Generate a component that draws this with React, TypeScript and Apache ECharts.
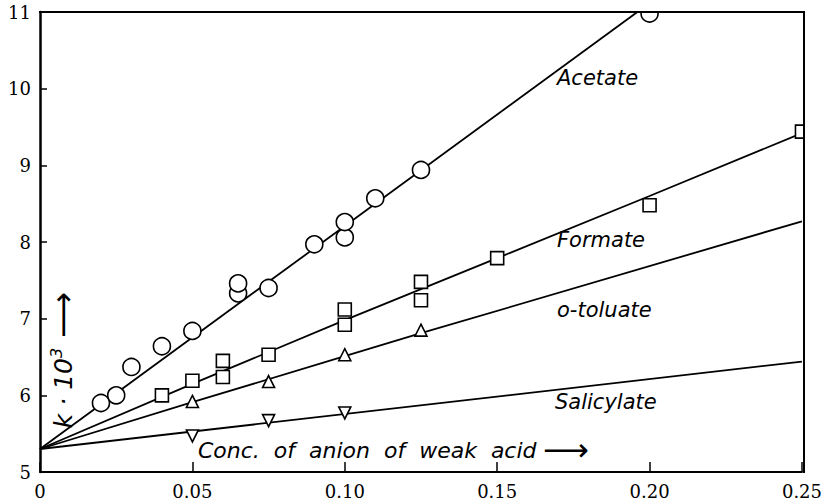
import React, { useEffect, useRef } from "react";
import * as echarts from "echarts";

// ---- data ----
const xTicks = [0, 0.05, 0.1, 0.15, 0.2, 0.25];
const yTicks = [5, 6, 7, 8, 9, 10, 11];

const acetatePts = [
  [0.02, 5.9], [0.025, 6.0], [0.03, 6.37], [0.04, 6.64], [0.05, 6.84],
  [0.065, 7.33], [0.065, 7.46], [0.075, 7.4], [0.09, 7.97], [0.1, 8.06],
  [0.1, 8.26], [0.11, 8.57], [0.125, 8.94], [0.2, 10.98],
];
const formatePts = [
  [0.04, 6.0], [0.05, 6.19], [0.06, 6.45], [0.06, 6.24], [0.075, 6.53],
  [0.1, 7.12], [0.1, 6.92], [0.125, 7.48], [0.125, 7.24], [0.15, 7.79],
  [0.2, 8.48], [0.25, 9.44],
];
const toluatePts = [[0.05, 5.92], [0.075, 6.18], [0.1, 6.53], [0.125, 6.85]];
const salicylatePts = [[0.05, 5.47], [0.075, 5.67], [0.1, 5.77]];

const acetateFit = [[0, 5.3], [0.196, 11.0]];
const formateFit = [[0, 5.3], [0.05, 6.15], [0.1, 6.98], [0.15, 7.79], [0.2, 8.6], [0.25, 9.42]];
const toluateFit = [[0, 5.3], [0.05, 5.91], [0.1, 6.51], [0.125, 6.81], [0.25, 8.27]];
const salicylateFit = [[0, 5.3], [0.25, 6.44]];

const curveNames = ["Acetate", "Formate", "o-toluate", "Salicylate"];
const xTitle = "Conc.\u00A0 of\u00A0 anion\u00A0 of\u00A0 weak\u00A0 acid";

const SANS = '"DejaVu Sans"';
const SERIF = '"DejaVu Serif"';

export default function App() {
  const ref = useRef<HTMLDivElement>(null);

  useEffect(() => {
    const chart = echarts.init(ref.current!, null, { renderer: "svg" });

    const fitLine = (name: string, data: number[][]) => ({
      name,
      type: "line",
      data,
      symbol: "none",
      clip: true,
      silent: true,
      z: 2,
      lineStyle: { color: "#000", width: 1.8 },
    });
    const marks = (name: string, data: number[][], symbol: string, size: number, rotate = 0) => ({
      name: name + " pts",
      type: "scatter",
      data,
      symbol,
      symbolSize: size,
      symbolRotate: rotate,
      clip: true,
      silent: true,
      z: 3,
      itemStyle: { color: "#fff", borderColor: "#000", borderWidth: 1.6, opacity: 1 },
    });

    const labelStyle = { fill: "#000", font: `italic 21px ${SANS}`, textVerticalAlign: "middle" };

    chart.setOption({
      animation: false,
      backgroundColor: "#fff",
      grid: { left: 40, right: 21, top: 12, bottom: 32 },
      xAxis: {
        type: "value",
        min: xTicks[0],
        max: xTicks[xTicks.length - 1],
        interval: 0.05,
        axisLine: { show: true, onZero: false, lineStyle: { color: "#000", width: 2 } },
        axisTick: { show: true, inside: true, length: 10, lineStyle: { color: "#000", width: 1.5 } },
        splitLine: { show: false },
        axisLabel: {
          color: "#000",
          fontFamily: SERIF,
          fontSize: 18,
          margin: 10,
          formatter: (v: number) => (v === 0 ? "0" : v.toFixed(2)),
        },
      },
      yAxis: {
        type: "value",
        min: yTicks[0],
        max: yTicks[yTicks.length - 1],
        interval: 1,
        axisLine: { show: true, onZero: false, lineStyle: { color: "#000", width: 2.5 } },
        axisTick: { show: true, inside: true, length: 7, lineStyle: { color: "#000", width: 1.5 } },
        splitLine: { show: false },
        axisLabel: { color: "#000", fontFamily: SERIF, fontSize: 18, margin: 9 },
      },
      series: [
        fitLine("Acetate", acetateFit),
        fitLine("Formate", formateFit),
        fitLine("o-toluate", toluateFit),
        fitLine("Salicylate", salicylateFit),
        marks("Acetate", acetatePts, "circle", 17),
        marks("Formate", formatePts, "rect", 13),
        marks("o-toluate", toluatePts, "triangle", 12),
        marks("Salicylate", salicylatePts, "triangle", 12, 180),
      ],
      graphic: [
        // mask symbols that stick out of the frame (top and right)
        { type: "rect", z: 100, silent: true, shape: { x: 41, y: 0, width: 784, height: 11 }, style: { fill: "#fff" } },
        { type: "rect", z: 100, silent: true, shape: { x: 805, y: 0, width: 20, height: 472 }, style: { fill: "#fff" } },
        // top and right frame lines
        { type: "line", z: 101, silent: true, shape: { x1: 39, y1: 12, x2: 805, y2: 12 }, style: { stroke: "#000", lineWidth: 2 } },
        { type: "line", z: 101, silent: true, shape: { x1: 804, y1: 11, x2: 804, y2: 473 }, style: { stroke: "#000", lineWidth: 2 } },
        // curve labels
        { type: "text", z: 102, x: 557, y: 78, style: { ...labelStyle, text: curveNames[0] } },
        { type: "text", z: 102, x: 557, y: 240, style: { ...labelStyle, text: curveNames[1] } },
        { type: "text", z: 102, x: 557, y: 310, style: { ...labelStyle, text: curveNames[2] } },
        { type: "text", z: 102, x: 555, y: 402, style: { ...labelStyle, text: curveNames[3] } },
        // x axis title inside plot
        {
          type: "text",
          z: 102,
          x: 198,
          y: 450,
          style: {
            text: "{a|" + xTitle + "}{r|\u2009\u27F6}",
            textVerticalAlign: "middle",
            fill: "#000",
            rich: {
              a: { fontFamily: SANS, fontStyle: "italic", fontSize: 22, fill: "#000", lineHeight: 30, verticalAlign: "middle" },
              r: { fontFamily: SANS, fontSize: 32, fill: "#000", lineHeight: 30, verticalAlign: "middle" },
            },
          },
        },
        // y axis title, rotated
        {
          type: "text",
          z: 102,
          x: 63,
          y: 360,
          rotation: Math.PI / 2,
          style: {
            text: "{a|k\u00A0·\u00A010}{s|3}{r|\u00A0\u27F6}",
            textAlign: "center",
            textVerticalAlign: "middle",
            fill: "#000",
            rich: {
              a: { fontFamily: SANS, fontStyle: "italic", fontSize: 25, fill: "#000", lineHeight: 30, verticalAlign: "middle" },
              s: { fontFamily: SANS, fontStyle: "italic", fontSize: 16, fill: "#000", verticalAlign: "top", lineHeight: 30 },
              r: { fontFamily: SANS, fontSize: 32, fill: "#000", lineHeight: 30, verticalAlign: "middle" },
            },
          },
        },
      ],
    });

    return () => chart.dispose();
  }, []);

  return (
    <div
      ref={ref}
      style={{ position: "fixed", left: 0, top: 0, width: 825, height: 504, background: "#fff" }}
    />
  );
}
